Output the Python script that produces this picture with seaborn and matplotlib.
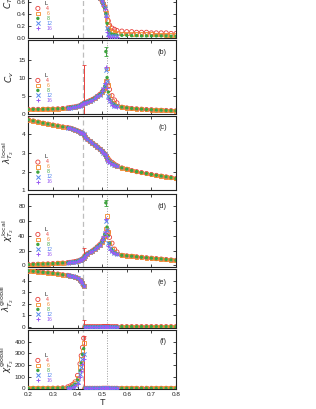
import matplotlib
matplotlib.use("Agg")
import matplotlib.pyplot as plt
import seaborn as sns

# --- temperature grids (L=4,6,8 cover everything, L=12,16 only the middle) ---
T_lo = [0.20, 0.22, 0.24, 0.26, 0.28, 0.30, 0.32, 0.34]
T_mid = [0.36, 0.37, 0.38, 0.39, 0.40, 0.41, 0.415, 0.42, 0.425, 0.43, 0.44, 0.45, 0.46,
         0.47, 0.48, 0.49, 0.50, 0.505, 0.51, 0.515, 0.52, 0.525, 0.53, 0.54, 0.55, 0.56]
T_hi = [0.58, 0.60, 0.62, 0.64, 0.66, 0.68, 0.70, 0.72, 0.74, 0.76, 0.78, 0.80]

L_sizes = [4, 6, 8, 12, 16]
T_first = 0.424   # dashed line
T_second = 0.518  # dotted line

# --- (a) order parameter C ---
C_lo = [0.99, 0.98, 0.97, 0.96, 0.95, 0.94, 0.93, 0.91]
C_mid_L4 = [0.90, 0.89, 0.88, 0.87, 0.86, 0.85, 0.845, 0.84, 0.83, 0.82, 0.80, 0.78, 0.76,
            0.73, 0.70, 0.66, 0.61, 0.57, 0.52, 0.45, 0.36, 0.28, 0.21, 0.16, 0.14, 0.12]
C_mid_L6 = [0.90, 0.89, 0.88, 0.87, 0.86, 0.85, 0.845, 0.84, 0.83, 0.82, 0.80, 0.78, 0.76,
            0.73, 0.70, 0.66, 0.61, 0.56, 0.51, 0.42, 0.30, 0.20, 0.13, 0.10, 0.09, 0.08]
C_mid_L8 = [0.90, 0.89, 0.88, 0.87, 0.86, 0.85, 0.845, 0.84, 0.83, 0.82, 0.80, 0.78, 0.76,
            0.73, 0.70, 0.66, 0.61, 0.56, 0.50, 0.40, 0.24, 0.13, 0.08, 0.06, 0.05, 0.045]
C_mid_L12 = [0.90, 0.89, 0.88, 0.87, 0.86, 0.85, 0.845, 0.84, 0.83, 0.82, 0.80, 0.78, 0.76,
             0.73, 0.70, 0.66, 0.61, 0.56, 0.49, 0.37, 0.16, 0.06, 0.03, 0.025, 0.02, 0.02]
C_mid_L16 = [0.90, 0.89, 0.88, 0.87, 0.86, 0.85, 0.845, 0.84, 0.83, 0.82, 0.80, 0.78, 0.76,
             0.73, 0.70, 0.66, 0.61, 0.55, 0.48, 0.34, 0.10, 0.03, 0.015, 0.01, 0.01, 0.01]
C_hi_L4 = [0.11, 0.10, 0.10, 0.09, 0.09, 0.09, 0.08, 0.08, 0.08, 0.08, 0.07, 0.07]
C_hi_L6 = [0.07, 0.07, 0.065, 0.06, 0.06, 0.06, 0.06, 0.055, 0.055, 0.05, 0.05, 0.05]
C_hi_L8 = [0.04, 0.04, 0.035, 0.035, 0.03, 0.03, 0.03, 0.03, 0.03, 0.03, 0.025, 0.025]

# --- (b) specific heat Cv ---
Cv_lo = [1.2, 1.2, 1.2, 1.22, 1.25, 1.3, 1.35, 1.45]
Cv_mid_L4 = [1.6, 1.7, 1.8, 1.9, 2.05, 2.25, 2.4, 2.6, 2.9, 3.1, 3.3, 3.6, 3.9,
             4.3, 4.8, 5.3, 6.0, 6.4, 6.8, 7.6, 8.8, 7.6, 6.7, 5.0, 3.8, 3.0]
Cv_mid_L6 = [1.6, 1.7, 1.8, 1.9, 2.05, 2.25, 2.4, 2.6, 2.9, 3.1, 3.3, 3.6, 3.9,
             4.3, 4.8, 5.3, 6.0, 6.5, 7.2, 9.0, 12.5, 8.0, 5.0, 3.6, 2.8, 2.3]
Cv_mid_L8 = [1.6, 1.7, 1.8, 1.9, 2.05, 2.25, 2.4, 2.6, 2.9, 3.1, 3.3, 3.6, 3.9,
             4.3, 4.8, 5.3, 6.0, 6.6, 7.5, 17.2, 10.0, 6.0, 4.0, 3.0, 2.5, 2.1]
Cv_mid_L12 = [1.6, 1.7, 1.8, 1.9, 2.05, 2.25, 2.4, 2.6, 2.9, 3.1, 3.3, 3.6, 3.9,
              4.3, 4.8, 5.3, 6.1, 6.8, 8.0, 12.0, 9.0, 5.0, 3.5, 2.7, 2.2, 2.0]
Cv_mid_L16 = [1.6, 1.7, 1.8, 1.9, 2.05, 2.25, 2.4, 2.6, 2.9, 3.1, 3.3, 3.6, 3.9,
              4.3, 4.8, 5.3, 6.2, 7.0, 8.5, 13.0, 7.0, 4.2, 3.2, 2.5, 2.1, 1.9]
Cv_hi = [1.8, 1.6, 1.45, 1.35, 1.25, 1.15, 1.1, 1.0, 0.95, 0.9, 0.85, 0.8]

# --- (c) local lambda ---
lam_lo = [4.78, 4.72, 4.66, 4.60, 4.55, 4.50, 4.45, 4.40]
lam_mid_L4 = [4.36, 4.33, 4.29, 4.24, 4.19, 4.13, 4.09, 4.05, 4.00, 3.87, 3.74, 3.63, 3.53,
              3.43, 3.33, 3.22, 3.10, 3.03, 2.96, 2.88, 2.76, 2.68, 2.60, 2.50, 2.40, 2.32]
lam_mid_L6 = [4.36, 4.33, 4.29, 4.24, 4.19, 4.13, 4.09, 4.05, 4.00, 3.87, 3.74, 3.63, 3.53,
              3.43, 3.33, 3.22, 3.10, 3.03, 2.95, 2.85, 2.72, 2.62, 2.55, 2.45, 2.37, 2.30]
lam_mid_L8 = [4.36, 4.33, 4.29, 4.24, 4.19, 4.13, 4.09, 4.05, 4.00, 3.87, 3.74, 3.63, 3.53,
              3.43, 3.33, 3.22, 3.10, 3.03, 2.95, 2.84, 2.70, 2.60, 2.53, 2.44, 2.36, 2.30]
lam_mid_L12 = [4.36, 4.33, 4.29, 4.24, 4.19, 4.13, 4.09, 4.05, 4.00, 3.87, 3.74, 3.63, 3.53,
               3.43, 3.33, 3.22, 3.10, 3.02, 2.94, 2.82, 2.66, 2.56, 2.50, 2.42, 2.35, 2.29]
lam_mid_L16 = [4.36, 4.33, 4.29, 4.24, 4.19, 4.13, 4.09, 4.05, 4.00, 3.87, 3.74, 3.63, 3.53,
               3.43, 3.33, 3.22, 3.10, 3.02, 2.93, 2.80, 2.62, 2.53, 2.48, 2.41, 2.35, 2.29]
lam_hi = [2.20, 2.13, 2.06, 2.00, 1.95, 1.90, 1.85, 1.80, 1.76, 1.72, 1.68, 1.63]

# --- (d) local chi ---
chi_lo = [1.0, 1.2, 1.4, 1.6, 1.9, 2.2, 2.6, 3.0]
chi_mid_L4 = [3.5, 3.9, 4.4, 5.0, 5.8, 6.8, 7.5, 8.5, 10.0, 13.0, 15.5, 17.5, 19.5,
              22.0, 25.0, 28.0, 32.0, 35.0, 38.0, 41.0, 46.0, 45.0, 38.0, 30.0, 22.0, 18.0]
chi_mid_L6 = [3.5, 3.9, 4.4, 5.0, 5.8, 6.8, 7.5, 8.5, 10.0, 13.0, 15.5, 17.5, 19.5,
              22.0, 25.0, 28.0, 32.0, 35.0, 40.0, 50.0, 67.0, 45.0, 30.0, 22.0, 18.0, 16.0]
chi_mid_L8 = [3.5, 3.9, 4.4, 5.0, 5.8, 6.8, 7.5, 8.5, 10.0, 13.0, 15.5, 17.5, 19.5,
              22.0, 25.0, 28.0, 32.0, 36.0, 42.0, 85.0, 52.0, 40.0, 30.0, 21.0, 17.0, 15.0]
chi_mid_L12 = [3.5, 3.9, 4.4, 5.0, 5.8, 6.8, 7.5, 8.5, 10.0, 13.0, 15.5, 17.5, 19.5,
               22.0, 25.0, 28.0, 33.0, 37.0, 44.0, 60.0, 48.0, 30.0, 24.0, 19.0, 16.5, 15.0]
chi_mid_L16 = [3.5, 3.9, 4.4, 5.0, 5.8, 6.8, 7.5, 8.5, 10.0, 13.0, 15.5, 17.5, 19.5,
               22.0, 25.0, 28.0, 34.0, 38.0, 45.0, 63.0, 40.0, 26.0, 21.0, 18.0, 16.0, 15.0]
chi_hi = [13.5, 12.8, 12.2, 11.5, 10.8, 10.2, 9.6, 9.0, 8.4, 7.8, 7.2, 6.6]

# --- (e) global lambda ---
lamg_lo = [4.84, 4.80, 4.76, 4.71, 4.67, 4.62, 4.57, 4.50]
lamg_mid = [4.45, 4.40, 4.35, 4.28, 4.20, 4.05, 3.95, 3.80, 3.55, 0, 0, 0, 0,
            0, 0, 0, 0, 0, 0, 0, 0, 0, 0, 0, 0, 0]
lamg_hi = [0, 0, 0, 0, 0, 0, 0, 0, 0, 0, 0, 0]

# --- (f) global chi ---
chig_lo = [0, 0, 0, 0, 0.5, 1, 2, 4]
chig_mid_L4 = [12, 20, 32, 55, 110, 210, 280, 350, 430, 0, 0, 0, 0,
               0, 0, 0, 0, 0, 0, 0, 0, 0, 0, 0, 0, 0]
chig_mid_L6 = [8, 15, 26, 45, 90, 180, 250, 320, 390, 0, 0, 0, 0,
               0, 0, 0, 0, 0, 0, 0, 0, 0, 0, 0, 0, 0]
chig_mid_L8 = [5, 10, 20, 36, 72, 150, 215, 290, 340, 0, 0, 0, 0,
               0, 0, 0, 0, 0, 0, 0, 0, 0, 0, 0, 0, 0]
chig_mid_L12 = [3, 6, 13, 26, 55, 120, 180, 250, 290, 0, 0, 0, 0,
                0, 0, 0, 0, 0, 0, 0, 0, 0, 0, 0, 0, 0]
chig_mid_L16 = [2, 4, 9, 18, 40, 95, 150, 210, 250, 0, 0, 0, 0,
                0, 0, 0, 0, 0, 0, 0, 0, 0, 0, 0, 0, 0]
chig_hi = [0, 0, 0, 0, 0, 0, 0, 0, 0, 0, 0, 0]

# --- error bars: (panel, L, T, value, lower, upper) ---
err_panel = ["b", "b", "d", "d", "e", "f"]
err_L = [4, 8, 4, 8, 4, 4]
err_T = [0.427, 0.515, 0.427, 0.515, 0.428, 0.426]
err_val = [6.1, 17.2, 15.0, 85.0, 0.30, 430.0]
err_lo = [6.1, 1.3, 8.0, 4.0, 0.30, 430.0]
err_hi = [7.4, 1.3, 8.0, 4.0, 0.30, 15.0]

colors = {4: "#e8413c", 6: "#f2892b", 8: "#3fa43f", 12: "#5487ee", 16: "#9a5cf2"}
markers = {4: "o", 6: "s", 8: "o", 12: "x", 16: "+"}


def build(lo, mids, his):
    out = {}
    for L in L_sizes:
        if L in (4, 6, 8):
            out[L] = (T_lo + T_mid + T_hi, lo + mids[L] + his[L])
        else:
            out[L] = (T_mid, mids[L])
    return out


panels = {
    "a": build(C_lo, {4: C_mid_L4, 6: C_mid_L6, 8: C_mid_L8, 12: C_mid_L12, 16: C_mid_L16},
               {4: C_hi_L4, 6: C_hi_L6, 8: C_hi_L8}),
    "b": build(Cv_lo, {4: Cv_mid_L4, 6: Cv_mid_L6, 8: Cv_mid_L8, 12: Cv_mid_L12, 16: Cv_mid_L16},
               {4: Cv_hi, 6: Cv_hi, 8: Cv_hi}),
    "c": build(lam_lo, {4: lam_mid_L4, 6: lam_mid_L6, 8: lam_mid_L8, 12: lam_mid_L12, 16: lam_mid_L16},
               {4: lam_hi, 6: lam_hi, 8: lam_hi}),
    "d": build(chi_lo, {4: chi_mid_L4, 6: chi_mid_L6, 8: chi_mid_L8, 12: chi_mid_L12, 16: chi_mid_L16},
               {4: chi_hi, 6: chi_hi, 8: chi_hi}),
    "e": build(lamg_lo, {L: lamg_mid for L in L_sizes}, {4: lamg_hi, 6: lamg_hi, 8: lamg_hi}),
    "f": build(chig_lo, {4: chig_mid_L4, 6: chig_mid_L6, 8: chig_mid_L8, 12: chig_mid_L12, 16: chig_mid_L16},
               {4: chig_hi, 6: chig_hi, 8: chig_hi}),
}

ylabels = {
    "a": r"$C_{T_2}$",
    "b": r"$C_v$",
    "c": r"$\lambda^{\rm local}_{T_2}$",
    "d": r"$\chi^{\rm local}_{T_2}$",
    "e": r"$\lambda^{\rm global}_{T_2}$",
    "f": r"$\chi^{\rm global}_{T_2}$",
}
ylims = {"a": (0, 1.2), "b": (0, 20.4), "c": (1, 5), "d": (-2, 97), "e": (-0.1, 5.0), "f": (-6, 500)}
yticks = {"a": [0, 0.2, 0.4, 0.6, 0.8, 1.0], "b": [0, 5, 10, 15], "c": [1, 2, 3, 4],
          "d": [0, 20, 40, 60, 80], "e": [0, 1, 2, 3, 4], "f": [0, 100, 200, 300, 400]}
yfmt = {"a": "{:.1f}"}

# layout in pixels: (top, bottom) of each panel, legend bottom offset, tag offset
W, H = 316, 409
x0, x1 = 28.3, 176.0
extent = {"a": (-34.3, 37.7), "b": (40.0, 113.7), "c": (115.7, 190.3),
          "d": (194.0, 266.7), "e": (269.0, 327.8), "f": (330.0, 389.0)}
leg_off = {"a": 6.9, "b": 10.9, "c": 5.8, "d": 9.9, "e": 6.0, "f": 6.2}
tag_off = {"b": 12.7, "c": 11.7, "d": 12.7, "e": 14.0, "f": 11.7}

sns.set_style("ticks")
plt.rcParams["font.family"] = ["Liberation Sans", "DejaVu Sans"]
plt.rcParams["mathtext.fontset"] = "dejavusans"

fig = plt.figure(figsize=(W / 100, H / 100), dpi=100)

for key in ["a", "b", "c", "d", "e", "f"]:
    top, bot = extent[key]
    ax = fig.add_axes([x0 / W, 1 - bot / H, (x1 - x0) / W, (bot - top) / H])
    hpx = bot - top

    ax.axvline(T_first, color="#bdbdbd", lw=0.9, dashes=(4, 2.5), zorder=0)
    ax.axvline(T_second, color="#9a9a9a", lw=0.7, dashes=(1, 1.6), zorder=0)

    for L in L_sizes:
        t, v = panels[key][L]
        kw = dict(marker=markers[L], ax=ax, label=str(L), zorder=3, legend=False)
        if L in (4, 6):
            kw.update(s=9 if L == 4 else 7, facecolor="none", edgecolor=colors[L], linewidth=0.6)
        elif L == 8:
            kw.update(s=6, color=colors[L], edgecolor="none", linewidth=0)
        else:
            kw.update(s=9, color=colors[L], linewidth=0.7)
        sns.scatterplot(x=t, y=v, **kw)

    for p, L, t, v, lo, hi in zip(err_panel, err_L, err_T, err_val, err_lo, err_hi):
        if p == key:
            ax.errorbar([t], [v], yerr=[[lo], [hi]], fmt="none", ecolor=colors[L],
                        elinewidth=0.7, capsize=1.2, capthick=0.6, zorder=2)

    ax.set_xlim(0.2, 0.8)
    ax.set_ylim(*ylims[key])
    ax.set_xticks([0.2, 0.3, 0.4, 0.5, 0.6, 0.7, 0.8])
    ax.set_yticks(yticks[key])
    ax.set_yticklabels([yfmt.get(key, "{:g}").format(y) for y in yticks[key]])
    ax.tick_params(direction="in", length=2.2, width=0.6, top=True, right=True,
                   labelsize=4.6, pad=2.0, colors="#222222", labelcolor="#222222")
    for sp in ax.spines.values():
        sp.set_linewidth(0.8)
        sp.set_color("#222222")

    if key == "f":
        ax.set_xticklabels(["0.2", "0.3", "0.4", "0.5", "0.6", "0.7", "0.8"])
        ax.set_xlabel("T", fontsize=6.5, labelpad=1.0)
    else:
        ax.set_xticklabels([])

    ax.set_ylabel(ylabels[key], fontsize=6.5)
    ax.yaxis.set_label_coords(-0.085, 0.5)

    leg = ax.legend(loc="lower left", bbox_to_anchor=(0.047, leg_off[key] / hpx),
                    borderaxespad=0, borderpad=0, frameon=False, fontsize=3.8,
                    title="   L", title_fontsize=4.2, handlelength=1.0,
                    handletextpad=1.1, labelspacing=0.0, markerscale=1.0)
    for txt, L in zip(leg.get_texts(), L_sizes):
        txt.set_color(colors[L])

    # panel tag (the top panel's tag lies outside the cropped picture)
    if key in tag_off:
        ax.annotate(f"({key})", xy=(1, 1), xycoords="axes fraction", xytext=(-9, -tag_off[key]),
                    textcoords="offset pixels", ha="right", va="center", fontsize=5.2)

fig.savefig("out.png", dpi=100)
